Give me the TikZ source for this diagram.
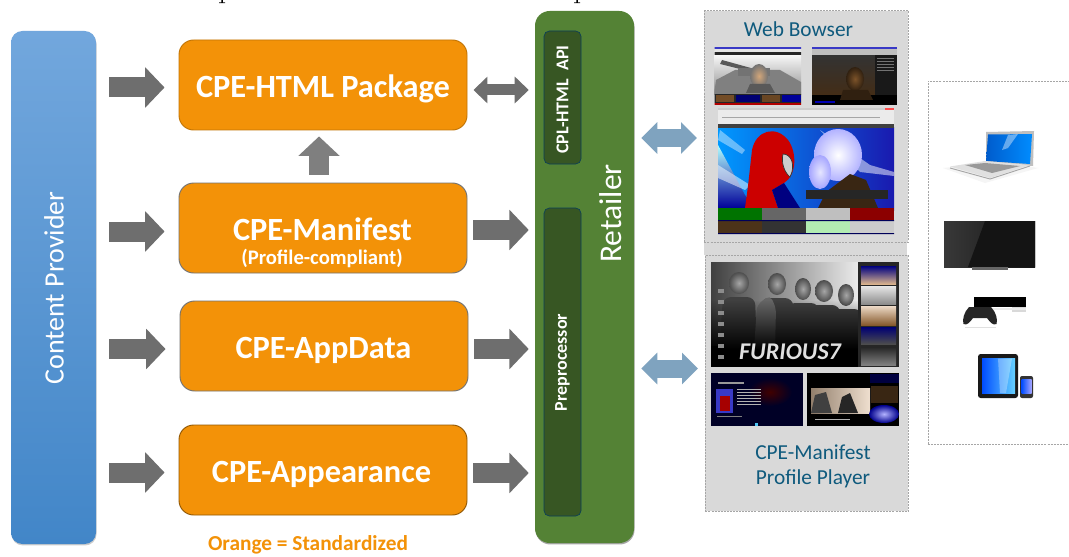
\documentclass[tikz,border=0pt]{standalone}
\usepackage{fontspec}
\setmainfont{Carlito}
\usetikzlibrary{arrows.meta,shadows,fadings}
\definecolor{orangebox}{HTML}{F39208}
\definecolor{arrowgray}{HTML}{6E6E6E}
\definecolor{arrowlight}{HTML}{7F7F7F}
\definecolor{arrowblue}{HTML}{7FA3BF}
\definecolor{retailgreen}{HTML}{548235}
\definecolor{darkgreen}{HTML}{375623}
\definecolor{panelgray}{HTML}{D9D9D9}
\definecolor{tealtext}{HTML}{0F5A7D}
\definecolor{cptop}{HTML}{72A7DD}
\definecolor{cpbot}{HTML}{4286C8}
\tikzset{
 x=0.75pt,y=-0.75pt,
 softshadow/.style={drop shadow={shadow xshift=.4pt,shadow yshift=-1.1pt,opacity=#1,fill=black}},
 orangecard/.style={draw=#1,line width=.7pt,fill=orangebox,rounded corners=11pt,inner sep=0pt,minimum width=216pt,minimum height=67.5pt},
 cardtext/.style={text=white,font=\bfseries\fontsize{24.3pt}{28pt}\selectfont,inner sep=0pt},
 blockarrow/.style={draw=arrowgray,line width=15pt,-{Triangle[length=14.5pt,width=29.5pt]}},
 fromleft/.style={shorten <=9.75pt,shorten >=10.5pt},
 fromcard/.style={shorten <=4.5pt,shorten >=4.5pt},
 twoway/.style={draw=arrowgray,line width=8.25pt,{Triangle[length=10.5pt,width=19.5pt]}-{Triangle[length=10.5pt,width=19.5pt]},shorten <=4.5pt,shorten >=4.5pt},
 bluetwoway/.style={draw=arrowblue,line width=13.5pt,{Triangle[length=12pt,width=23pt]}-{Triangle[length=12pt,width=23pt]},shorten <=5.25pt,shorten >=5.25pt},
 paneldash/.style={draw=black!35,dash pattern=on 1.5pt off .8pt,line width=.6pt},
 innerbox/.style={draw=tealtext!70!black,line width=.5pt,fill=darkgreen,rounded corners=4pt,inner sep=0pt,minimum width=27.75pt},
 sidetext/.style={rotate=90,text=white,font=\bfseries\fontsize{13.5pt}{16pt}\selectfont,inner sep=0pt},
 paneltext/.style={text=tealtext,font=\fontsize{16pt}{18.7pt}\selectfont,align=center,inner sep=0pt},
}
\begin{document}
\begin{tikzpicture}
\useasboundingbox (0,0) rectangle (1069,556);
\fill[white] (0,0) rectangle (1069,556);
% cut-off descenders at the top edge
\fill[black] (221.4,0) rectangle (222.8,2.6) (219.2,2.4) rectangle (225.2,3.2);
\fill[black] (576.4,0) rectangle (577.8,2.6) (574.2,2.4) rectangle (580.2,3.2);

% Content provider
\node[rounded corners=8.5pt,top color=cptop,bottom color=cpbot,minimum width=63.75pt,minimum height=384.75pt,inner sep=0pt,softshadow=.2] (cp) at (53.5,287.5) {};
\node[rotate=90,text=white,font=\fontsize{21pt}{25pt}\selectfont,inner sep=0pt] (cptext) at (54,288) {Content Provider};

% Retailer
\node[rounded corners=11pt,fill=retailgreen,minimum width=74.25pt,minimum height=399pt,inner sep=0pt,softshadow=.35] (ret) at (584.5,277) {};
\node[rotate=90,text=white,font=\fontsize{23.7pt}{28pt}\selectfont,inner sep=0pt] (rettext) at (611,213.5) {Retailer};
\node[innerbox,minimum height=99.75pt] (api) at (562.5,97.5) {};
\node[sidetext] (apitext) at (562.5,99.5) {CPL-HTML\ \ API};
\node[innerbox,minimum height=231pt] (pre) at (562.5,362) {};
\node[sidetext] (pretext) at (562.5,362.5) {Preprocessor};

% Orange cards
\node[orangecard=orangebox!80!black] (html) at (323,85) {};
\node[cardtext] (htmltext) at (323,88.5) {CPE-HTML Package};
\node[orangecard=black!55] (man) at (323,228) {};
\node[cardtext] (mantext) at (322.5,229) {CPE-Manifest};
\node[text=white,font=\bfseries\fontsize{15.5pt}{18pt}\selectfont,inner sep=0pt] (mansub) at (322,258.5) {(Profile-compliant)};
\node[orangecard=black!55] (app) at (324,346) {};
\node[cardtext] (apptext) at (323.5,350) {CPE-AppData};
\node[orangecard=black!40!orangebox] (appr) at (323,470) {};
\node[cardtext] (apprtext) at (321.5,474) {CPE-Appearance};
\node[text=orangebox,font=\bfseries\fontsize{16pt}{18pt}\selectfont,inner sep=0pt] (legend) at (308,545) {Orange = Standardized};

% Connectors
\coordinate (r1) at (0,87.5);
\coordinate (r2) at (0,231.5);
\coordinate (r3) at (0,349);
\coordinate (r4) at (0,472.5);
\draw[blockarrow,fromleft] (cp.east |- r1) -- (html.west |- r1);
\draw[blockarrow,fromleft] (cp.east |- r2) -- (man.west |- r2);
\draw[blockarrow,fromleft] (cp.east |- r3) -- (app.west |- r3);
\draw[blockarrow,fromleft] (cp.east |- r4) -- (appr.west |- r4);
\coordinate (q1) at (0,90);
\coordinate (q2) at (0,230);
\coordinate (q3) at (0,349);
\coordinate (q4) at (0,473);
\draw[twoway] (html.east |- q1) -- (ret.west |- q1);
\draw[blockarrow,fromcard] (man.east |- q2) -- (ret.west |- q2);
\draw[blockarrow,fromcard] (app.east |- q3) -- (ret.west |- q3);
\draw[blockarrow,fromcard] (appr.east |- q4) -- (ret.west |- q4);
\coordinate (vx) at (319,0);
\draw[draw=arrowlight,line width=15pt,-{Triangle[length=14.5pt,width=30pt]},shorten <=6pt,shorten >=4.5pt] (man.north -| vx) -- (html.south -| vx);

% Panels
\fill[panelgray] (704,241) rectangle (907,255);
\node[anchor=north west,fill=panelgray,paneldash,minimum width=153pt,minimum height=173.25pt,inner sep=0pt] (web) at (704,10.5) {};
\node[anchor=north west,fill=panelgray,paneldash,minimum width=152.25pt,minimum height=192pt,inner sep=0pt] (player) at (705,255) {};
\node[anchor=north west,fill=white,paneldash,minimum width=130pt,minimum height=272.25pt,inner sep=0pt] (dev) at (927.5,81) {};
\node[paneltext] (webtext) at (798.5,29.5) {Web Bowser};
\node[paneltext] (playertext) at (813,466.5) {CPE-Manifest\\Profile Player};
\coordinate (b1y) at (0,138);
\coordinate (b2y) at (0,368.5);
\draw[bluetwoway] (ret.east |- b1y) -- (web.west |- b1y);
\draw[bluetwoway] (ret.east |- b2y) -- (player.west |- b2y);

% ---- Screenshot 1 (tank)
\begin{scope}
\clip (714.5,47) rectangle (801,105);
\shade[top color=white,bottom color=black!45] (714,52) rectangle (802,95);
\fill[black!50] (716,80) -- (735,70) -- (780,70) -- (801,82) -- (801,95) -- (714,95) -- cycle;
\fill[black!65] (722,60) -- (758,70) -- (756,73) -- (720,64) -- cycle;
\fill[black!55] (738,68) rectangle (770,76);
\shade[inner color=brown!70!white,outer color=black!55] (759,76) ellipse (9 and 12);
\fill[black!65] (746,93) -- (750,84) -- (770,84) -- (775,93) -- cycle;
\fill[black!85] (714,94) rectangle (802,103);
\fill[brown!60!black] (716,95) rectangle (734,102);
\fill[blue!45!black] (736,95) rectangle (760,102);
\fill[brown!55!black] (762,95) rectangle (780,102);
\fill[blue!60!black] (782,95) rectangle (801,102);
\fill[red!70!black] (714,103) rectangle (802,105);
\fill[black!85] (714,52) rectangle (802,55.5);
\fill[white!90!black] (714,49) rectangle (802,52);
\fill[blue!55!gray] (714,47) rectangle (802,49);
\end{scope}
% ---- Screenshot 2 (dark movie)
\begin{scope}
\clip (812,47) rectangle (897,105);
\fill[black] (812,47) rectangle (897,105);
\shade[top color=black!80,bottom color=brown!35!black] (812,55) rectangle (875,95);
\shade[inner color=brown!65!black,outer color=brown!25!black] (855,79) ellipse (9 and 12);
\fill[black!75!brown] (840,100) -- (843,90) -- (868,90) -- (873,100) -- cycle;
\fill[black!90] (875,55) rectangle (897,95);
\foreach \ly in {58,61,64,67,70}{\fill[black!55] (877,\ly) rectangle ++(17,1);}
\fill[blue!70!black] (815,101) rectangle (835,103);
\fill[black!25] (812,49) rectangle (897,55);
\fill[blue!55!gray] (812,47) rectangle (897,49);
\end{scope}
% ---- Screenshot 3 (blue poster)
\begin{scope}
\clip (718,108) rectangle (894,234);
\fill[black!85] (718,108) rectangle (894,234);
\shade[left color=cyan!60!blue,right color=blue!65!black!90] (718,128) rectangle (894,210);
\shade[top color=cyan!30!white,bottom color=blue!60!black] (718,145) -- (745,195) -- (755,208) -- (718,208) -- cycle;
\fill[white,opacity=.5] (820,130) -- (870,165) -- (894,172) -- (894,176) -- (860,172) -- cycle;
\fill[white,opacity=.5] (718,165) -- (750,185) -- (745,190) -- (718,178) -- cycle;
\fill[white,opacity=.4] (720,130) -- (745,150) -- (742,154) -- (718,140) -- cycle;
\fill[red!80!black] (745,208) -- (748,186) -- (752,150) .. controls (756,130) and (776,125) .. (788,140) .. controls (797,152) and (797,175) .. (784,183) -- (772,190) -- (778,208) -- cycle;
\fill[blue!50!black] (772,190) -- (784,183) -- (800,208) -- (778,208) -- cycle;
\fill[white!80!black,draw=black!80,line width=.5pt] (783,154) .. controls (791,154) and (796,165) .. (790,177) .. controls (784,172) and (781,162) .. (783,154) -- cycle;
\shade[inner color=white,outer color=blue!30!white] (838,155) ellipse (24 and 26);
\shade[inner color=white!90!blue,outer color=blue!35!white] (820,172) ellipse (11 and 17);
\fill[black!70!brown] (826,192) -- (850,174) -- (866,180) -- (878,208) -- (818,208) -- cycle;
\fill[black!85] (806,190) rectangle (888,199);
\foreach \bx/\bc in {718/green!45!black,762/black!60,806/black!25,850/red!55!black}{
  \fill[\bc] (\bx,208) rectangle ++(44,12);
}
\foreach \bx/\bc in {718/brown!40!black,762/black!80,806/black!25!green!30!white,850/black!20}{
  \fill[\bc] (\bx,221) rectangle ++(44,12);
}
\fill[blue!35!black] (718,220) rectangle (894,221) (718,233) rectangle (894,234);
\fill[black!75] (718,124) rectangle (894,128);
\fill[white!92!black] (718,108) rectangle (894,124);
\fill[black!35] (722,117) rectangle (880,118.5);
\fill[black!20] (718,108) rectangle (894,110);
\fill[red!70] (885,108) rectangle (894,110);
\end{scope}
% ---- Player screen 1 (Furious 7)
\begin{scope}
\clip (711,262) rectangle (899,367);
\fill[black] (711,262) rectangle (899,367);
\shade[left color=black!75,right color=black!8] (711,262) rectangle (858,345);
\foreach \hx/\hy/\hw in {739/283/8,777/284/7,803/289/6,824/291/7,846/295/6}{
  \shade[inner color=black!35,outer color=black!70] (\hx,\hy) ellipse (\hw+2 and 11);
  \fill[black!75,rounded corners=6pt] (\hx-20,352) -- (\hx-16,\hy+14) -- (\hx+16,\hy+14) -- (\hx+18,352) -- cycle;
}
\fill[black!60,rounded corners=4pt] (754,350) -- (757,305) -- (770,295) -- (776,308) -- (775,350) -- cycle;
\fill[black,path fading=north] (711,300) rectangle (858,350);
\fill[black] (711,350) rectangle (858,367);
\fill[black!85] (858,262) rectangle (899,367);
\shade[top color=blue!50!black,bottom color=brown!60] (861,266) rectangle (896,284);
\shade[top color=black!10,bottom color=black!45] (861,286) rectangle (896,304);
\shade[top color=brown!30,bottom color=brown!70!black] (861,306) rectangle (896,325);
\shade[top color=blue!45!black,bottom color=black!70] (861,327) rectangle (896,344);
\shade[top color=black!85,bottom color=black!50] (861,347) rectangle (896,365);
\foreach \iy in {289,300,311,322,333,344,355}{\fill[black!45] (718,\iy) rectangle ++(6,4);}
\node[text=black!12,font=\bfseries\itshape\fontsize{18pt}{20pt}\selectfont,inner sep=0pt] (furious) at (790,352) {FURIOUS7};
\end{scope}
% ---- Player screen 2
\begin{scope}
\clip (711,373) rectangle (803,426);
\fill[black!85!blue] (711,373) rectangle (803,426);
\shade[inner color=red!25!black,outer color=black!85!blue] (770,392) ellipse (22 and 14);
\fill[blue!55!gray] (716,389) rectangle (733,413);
\fill[red!65!black] (720,396) rectangle (730,411);
\foreach \ly in {389,392,395,398,401,404}{\fill[white!70!black] (737,\ly) rectangle ++(24,1);}
\fill[white!60!black] (718,382) rectangle ++(26,1.5);
\fill[white!50!black] (717,416) rectangle ++(25,1);
\fill[cyan!70] (755,423) rectangle ++(3,3);
\end{scope}
% ---- Player screen 3
\begin{scope}
\clip (807,373) rectangle (899,426);
\fill[black] (807,373) rectangle (899,426);
\shade[left color=brown!30!gray,right color=brown!25!white] (811,388) rectangle (870,413);
\fill[black!75] (811,413) -- (815,395) -- (826,392) -- (832,413) -- cycle;
\fill[black!85] (838,413) -- (842,397) -- (850,393) -- (858,413) -- cycle;
\fill[blue!25!black] (870,374) rectangle (899,383);
\fill[brown!30!black] (871,386) rectangle (898,403);
\shade[inner color=blue!30!white,outer color=blue!55!black] (884,414) ellipse (15 and 9);
\fill[white!70!black] (815,419) rectangle ++(35,1);
\end{scope}

% ---- Laptop
\fill[black!4] (943,168) -- (1000,162) -- (1038,168) -- (985,183) -- cycle;
\fill[black!25] (986,132) -- (1034,131) -- (1033,166) -- (986,162) -- cycle;
\shade[left color=blue!55!cyan!80!black,right color=cyan!55!blue] (988,134.5) -- (1032,134) -- (1030,164) -- (986,161) -- cycle;
\fill[white,opacity=.4] (1008,135) -- (1018,134) -- (1008,148) -- (1002,150) -- cycle;
\fill[black!12] (950,166.5) -- (985,161) -- (1030,165) -- (990,178) -- cycle;
\fill[black!40] (965,165) -- (985,163) -- (1020,166) -- (992,173) -- cycle;
\draw[black!35,line width=.7pt] (950,168) -- (990,179) -- (1030,166);
% ---- TV
\shade[left color=black!78,right color=black!92] (944,221) rectangle (1035,267);
\fill[black!92] (985,221) -- (1035,221) -- (1035,267) -- (968,267) -- cycle;
\fill[black!60] (972,267) rectangle (1008,270);
% ---- Xbox
\fill[black] (974,297) rectangle (1026,307);
\fill[black!15] (1012,307) rectangle (1026,312);
\fill[black!8] (984,307.5) rectangle (1026,309.5);
\fill[black!85] (969,307) -- (991,307) .. controls (996,312) and (998,320) .. (996.5,324) .. controls (993,326) and (990,322) .. (987,318) -- (973,318) .. controls (970,322) and (967,326) .. (963.5,324) .. controls (962,320) and (964,312) .. (969,307) -- cycle;
\fill[black!12] (965,327) rectangle (996,328);
% ---- Tablet and phone
\fill[black!90,rounded corners=2pt] (978,354) rectangle (1018,398);
\shade[left color=blue!70!cyan,right color=blue!30!cyan!60!white] (982,358.5) rectangle (1015,393);
\fill[white,opacity=.3] (998,358.5) -- (1012,358.5) -- (1006,393) -- (1000,393) -- cycle;
\fill[black!80,rounded corners=1.5pt] (1020,376) rectangle (1033,398);
\shade[left color=blue!70!cyan,right color=blue!35!white] (1021.5,379.5) rectangle (1031.5,393.5);
\end{tikzpicture}
\end{document}
